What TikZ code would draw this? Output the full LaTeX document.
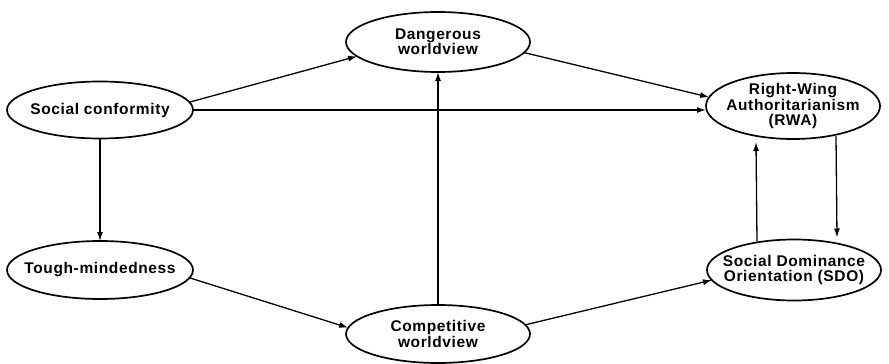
\documentclass[tikz,border=0pt]{standalone}
\usepackage{fontspec}
\setmainfont{Liberation Sans}[LetterSpace=4]
\usetikzlibrary{shapes.geometric,arrows.meta}
\begin{document}
\begin{tikzpicture}[x=1pt,y=-1pt,
  var/.style={ellipse,draw,line width=1.7pt,inner sep=0pt,outer sep=0pt},
  txt/.style={align=center,inner sep=0pt,font=\bfseries\fontsize{15.5}{15.2}\selectfont},
  link/.style={line width=1.3pt,-{Latex[length=9pt,width=6pt]}}]
\useasboundingbox (0,0) rectangle (889,364);
\node[var,minimum width=186pt,minimum height=57pt] (sc) at (100,110) {};
\node[txt] (sct) at (sc) {Social conformity};
\node[var,minimum width=184pt,minimum height=60pt] (dw) at (438,42) {};
\node[txt] (dwt) at (dw) {Dangerous\\worldview};
\node[var,minimum width=174pt,minimum height=66pt] (rwa) at (793,106) {};
\node[txt] (rwat) at (rwa) {Right-Wing\\Authoritarianism\\(RWA)};
\node[var,minimum width=174pt,minimum height=61pt] (sdo) at (794,270) {};
\node[txt] (sdot) at (sdo) {Social Dominance\\Orientation (SDO)};
\node[var,minimum width=186pt,minimum height=58pt] (tm) at (100,270) {};
\node[txt] (tmt) at (tm) {Tough-mindedness};
\node[var,minimum width=184pt,minimum height=58pt] (cw) at (438,334) {};
\node[txt] (cwt) at (cw) {Competitive\\worldview};

\draw[link] (sc.5) -- (dw.190);
\draw[link] (sc.east) -- (sc.east -| rwa.west);
\draw[link] (dw.-7) -- (rwa.174);
\draw[link] (sc.south) -- (tm.north);
\draw[link] (tm.-5) -- (cw.176);
\draw[link] (cw.north) -- (dw.south);
\draw[link] (cw.6) -- (sdo.187);
\draw[link] ([xshift=-37pt,yshift=-2pt]sdo.north) -- ([xshift=-37pt,yshift=-3pt]rwa.south);
\draw[link] ([xshift=43pt,yshift=3pt]rwa.south) -- ([xshift=43pt,yshift=2pt]sdo.north);
\end{tikzpicture}
\end{document}
